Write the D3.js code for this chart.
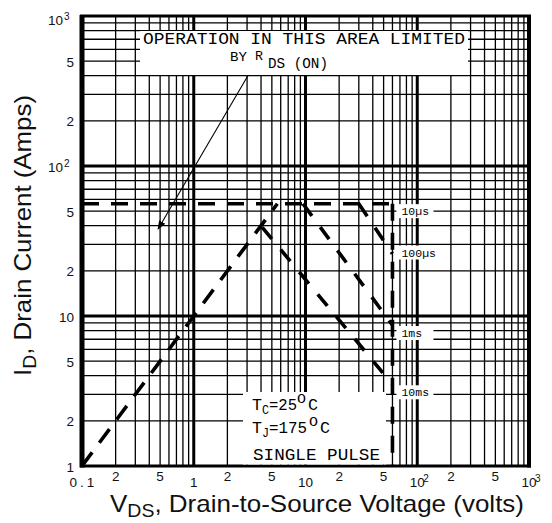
<!DOCTYPE html>
<html><head><meta charset="utf-8">
<script src="https://cdn.jsdelivr.net/npm/d3@7"></script>
<style>body{margin:0;background:#fff}</style>
</head><body><svg id="c" width="552" height="523"></svg>
<script>
// ---- data ----
const xDomain = [0.1, 1000];
const yDomain = [1, 1000];
const xDecades = [0.1, 1, 10, 100];
const yDecades = [1, 10, 100];
const minorSteps = [2, 3, 4, 5, 6, 7, 8, 9];
const xTickValues = [0.1, 0.2, 0.5, 1, 2, 5, 10, 20, 50, 100, 200, 500, 1000];
const xTickLabels = ["0.1", "2", "5", "1", "2", "5", "10", "2", "5", "10", "2", "5", "10"];
const xTickSup    = ["", "", "", "", "", "", "", "", "", "2", "", "", "3"];
const yTickValues = [1, 2, 5, 10, 20, 50, 100, 200, 500, 1000];
const yTickLabels = ["1", "2", "5", "10", "2", "5", "10", "2", "5", "10"];
const yTickSup    = ["", "", "", "", "", "", "2", "", "", "3"];
// RDS(on) limit line
const rdsV = [0.1, 5.6];
const rdsI = [1, 56];
// package current limit and breakdown voltage
const limitV = [0.1, 60];
const limitI = [56, 56];
const bvV = [60, 60];
const bvI = [56, 1];
// pulse-width boundaries
const pulseNames  = ["10\u00b5s", "100\u00b5s", "1ms", "10ms"];
const pulseStartV = [60, 30, 9.5, 4.1];
const pulseStartI = [56, 56, 56, 39];
const pulseEndV   = [60, 60, 60, 60];
const pulseEndI   = [56, 26, 8.7, 3.5];
const pulseLabelI = [50, 26.5, 7.7, 3.1];
// annotation arrow (data coords)
const arrowV = [3.05, 0.48];
const arrowI = [400, 38];

// ---- layout ----
const W = 552, H = 523;
const L = 82, R = 529, T = 16, B = 466;
const svg = d3.select("#c");
const x = d3.scaleLog().domain(xDomain).range([L, R]);
const y = d3.scaleLog().domain(yDomain).range([B, T]);

svg.append("rect").attr("width", W).attr("height", H).attr("fill", "#fff");

// grid
const grid = svg.append("g").attr("stroke", "#000");
const xMinor = xDecades.flatMap(d => minorSteps.map(m => m * d));
const yMinor = yDecades.flatMap(d => minorSteps.map(m => m * d));
grid.selectAll(".vx").data(xMinor).join("line")
  .attr("x1", d => x(d)).attr("x2", d => x(d)).attr("y1", T).attr("y2", B)
  .attr("stroke-width", 1.3);
grid.selectAll(".hy").data(yMinor).join("line")
  .attr("y1", d => y(d)).attr("y2", d => y(d)).attr("x1", L).attr("x2", R)
  .attr("stroke-width", 1.3);
grid.selectAll(".vd").data([1, 10, 100]).join("line")
  .attr("x1", d => x(d)).attr("x2", d => x(d)).attr("y1", T).attr("y2", B)
  .attr("stroke-width", 3);
grid.selectAll(".hd").data([10, 100]).join("line")
  .attr("y1", d => y(d)).attr("y2", d => y(d)).attr("x1", L).attr("x2", R)
  .attr("stroke-width", 3.2);
// frame
grid.append("line").attr("x1", x(0.1)).attr("x2", x(0.1)).attr("y1", T - 1).attr("y2", B + 1.5).attr("stroke-width", 5);
grid.append("line").attr("x1", x(1000)).attr("x2", x(1000)).attr("y1", T - 1).attr("y2", B + 1.5).attr("stroke-width", 4);
grid.append("line").attr("x1", L - 2).attr("x2", R + 2).attr("y1", y(1000)).attr("y2", y(1000)).attr("stroke-width", 3);
grid.append("line").attr("x1", L - 2).attr("x2", R + 2).attr("y1", y(1)).attr("y2", y(1)).attr("stroke-width", 3);

// white annotation boxes
svg.append("rect").attr("x", 140).attr("y", 31).attr("width", 328).attr("height", 44).attr("fill", "#fff");
svg.append("rect").attr("x", 243).attr("y", 392).attr("width", 143).attr("height", B - 1.5 - 392).attr("fill", "#fff");
pulseNames.forEach((n, i) => {
  svg.append("rect").attr("x", x(60) + 4).attr("y", y(pulseLabelI[i]) - 7)
    .attr("width", 37).attr("height", 14).attr("fill", "#fff");
});

// curves
const line = d3.line().x(d => x(d[0])).y(d => y(d[1]));
const dashG = svg.append("g").attr("fill", "none").attr("stroke", "#000")
  .attr("stroke-width", 3.6).attr("stroke-dasharray", "17,12");
dashG.append("path").attr("d", line(rdsV.map((v, i) => [v, rdsI[i]])));
dashG.append("path").attr("d", line(limitV.map((v, i) => [v, limitI[i]])));
dashG.append("path").attr("d", line(bvV.map((v, i) => [v, bvI[i]])));
pulseNames.forEach((n, i) => {
  if (pulseStartV[i] === pulseEndV[i]) return;
  dashG.append("path").attr("d", line([[pulseStartV[i], pulseStartI[i]], [pulseEndV[i], pulseEndI[i]]]))
    .attr("stroke-dasharray", "15,14");
});

// pulse labels
svg.selectAll(".pl").data(pulseNames).join("text")
  .attr("x", x(60) + 9).attr("y", (d, i) => y(pulseLabelI[i]) + 4)
  .attr("font-family", "Liberation Mono, monospace").attr("font-size", 11.5)
  .attr("fill", "#000").text(d => d);

// arrow
svg.append("defs").append("marker").attr("id", "ah").attr("viewBox", "0 0 10 10")
  .attr("refX", 9).attr("refY", 5).attr("markerWidth", 9).attr("markerHeight", 9)
  .attr("markerUnits", "userSpaceOnUse").attr("orient", "auto")
  .append("path").attr("d", "M0,1 L10,5 L0,9 Z").attr("fill", "#000");
svg.append("path").attr("d", line(arrowV.map((v, i) => [v, arrowI[i]])))
  .attr("stroke", "#000").attr("stroke-width", 1.1).attr("fill", "none")
  .attr("marker-end", "url(#ah)");

// annotation texts
const mono = "Liberation Mono, monospace";
function t(txt, xx, yy, fs, tl) {
  const e = svg.append("text").attr("x", xx).attr("y", yy).attr("font-family", mono)
    .attr("font-size", fs).attr("fill", "#000").text(txt);
  if (tl) e.attr("textLength", tl).attr("lengthAdjust", "spacingAndGlyphs");
  return e;
}
t("OPERATION IN THIS AREA LIMITED", 143, 44, 16.5, 322);
t("BY", 230, 61, 13.5, 17);
t("R", 255, 60, 12, 8);
t("DS (ON)", 268, 68, 15, 60);

t("T", 252, 410, 17, 10);
t("C", 262, 414, 12, 7);
t("=25", 269, 410, 16, 28);
t("O", 297, 403, 12, 9);
t("C", 308, 410, 16, 10);

t("T", 252, 433, 17, 10);
t("J", 262, 437, 12, 7);
t("=175", 269, 433, 16, 38);
t("O", 309, 426, 12, 9);
t("C", 320, 433, 16, 10);

t("SINGLE PULSE", 253, 460, 17, 127);

// tick labels
const sans = "Liberation Sans, Arial, sans-serif";
const yt = svg.append("g").attr("font-family", sans).attr("font-size", 13.5).attr("fill", "#111");
yTickValues.forEach((v, i) => {
  const by = Math.max(y(v) + 5.5, 25);
  if (yTickSup[i]) {
    yt.append("text").attr("x", 63).attr("y", by).attr("text-anchor", "end").text(yTickLabels[i]);
    yt.append("text").attr("x", 64).attr("y", by - 5).attr("font-size", 10).text(yTickSup[i]);
  } else {
    yt.append("text").attr("x", 74).attr("y", by).attr("text-anchor", "end").text(yTickLabels[i]);
  }
});
const xt = svg.append("g").attr("font-family", sans).attr("font-size", 13.5).attr("fill", "#111");
xTickValues.forEach((v, i) => {
  const decade = Math.abs(Math.log10(v) - Math.round(Math.log10(v))) < 1e-9;
  const by = decade ? 487 : 481;
  const e = xt.append("text").attr("x", x(v)).attr("y", by).attr("text-anchor", "middle").text(xTickLabels[i]);
  if (xTickLabels[i] === "0.1") e.attr("letter-spacing", 3).attr("x", x(v) + 1.5);
  if (xTickSup[i]) {
    xt.append("text").attr("x", x(v) + 6).attr("y", by - 5).attr("font-size", 10).text(xTickSup[i]);
  }
});

// axis titles
const xTitle = svg.append("text").attr("x", 110).attr("y", 512)
  .attr("font-family", sans).attr("font-size", 24).attr("fill", "#111")
  .attr("textLength", 414).attr("lengthAdjust", "spacingAndGlyphs");
xTitle.append("tspan").text("V");
xTitle.append("tspan").attr("font-size", 18).attr("dy", 5).text("DS");
xTitle.append("tspan").attr("dy", -5).text(", Drain-to-Source Voltage (volts)");

const yTitle = svg.append("text").attr("transform", "translate(31,376) rotate(-90)")
  .attr("font-family", sans).attr("font-size", 24).attr("fill", "#111")
  .attr("textLength", 281).attr("lengthAdjust", "spacingAndGlyphs");
yTitle.append("tspan").text("I");
yTitle.append("tspan").attr("font-size", 18).attr("dy", 5).text("D");
yTitle.append("tspan").attr("dy", -5).text(", Drain Current (Amps)");
</script></body></html>
